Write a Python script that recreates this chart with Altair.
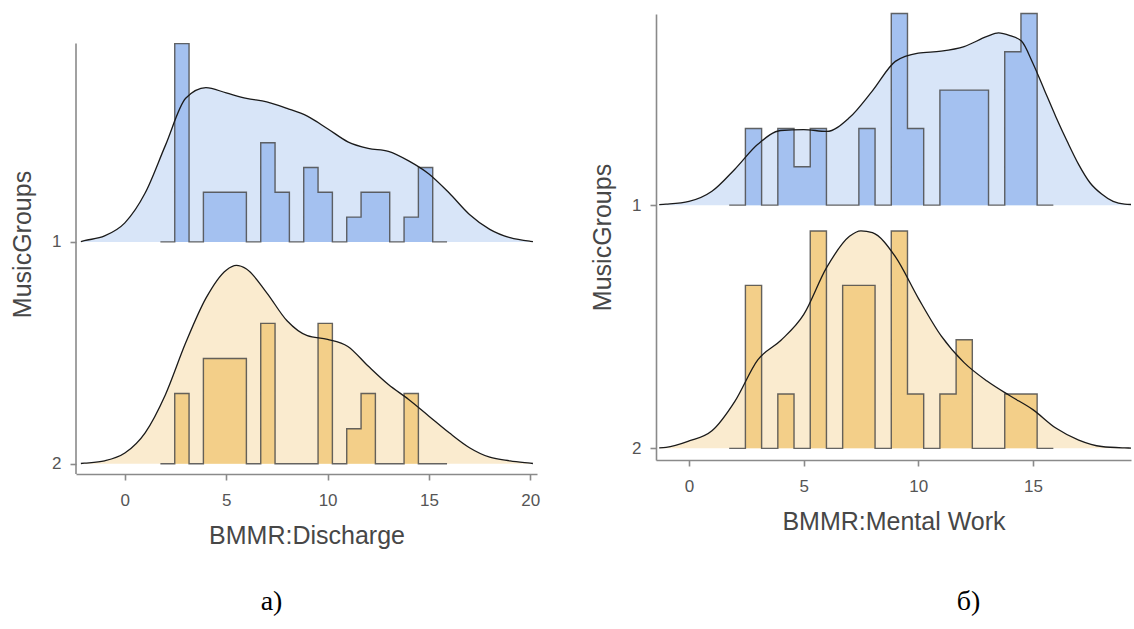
import altair as alt
import pandas as pd

# Histogram bins shared by both panels (score units)
BIN_START = 2.46
BIN_WIDTH = 0.707

GROUPS = ["1", "2"]

# ---- Panel а: BMMR:Discharge ----
a_hist_g1 = [8, 0, 2, 2, 2, 0, 4, 2, 0, 3, 2, 0, 1, 2, 2, 0, 1, 3]
a_hist_g2 = [2, 0, 3, 3, 3, 0, 4, 0, 0, 0, 4, 0, 1, 2, 0, 0, 2, 0]

a_kde_x_g1 = [-2.17, -2, -1, 0, 1, 2, 3, 4, 5, 6, 7, 8, 9, 10, 11, 12, 13,
              14, 15, 16, 17, 18, 19, 20, 20.13]
a_kde_d_g1 = [0.0005, 0.002, 0.010, 0.032, 0.082, 0.162, 0.241, 0.259, 0.250,
              0.241, 0.235, 0.224, 0.211, 0.190, 0.168, 0.157, 0.152, 0.136,
              0.114, 0.082, 0.046, 0.021, 0.007, 0.001, 0.0005]

a_kde_x_g2 = [-2.17, -2, -1, 0, 1, 2, 3, 4, 5, 5.5, 6, 7, 8, 9, 10, 11, 12,
              13, 14, 15, 16, 17, 18, 19, 20, 20.13]
a_kde_d_g2 = [0.0005, 0.001, 0.005, 0.018, 0.052, 0.116, 0.203, 0.278, 0.325,
              0.333, 0.327, 0.287, 0.240, 0.215, 0.209, 0.197, 0.164, 0.133,
              0.108, 0.080, 0.052, 0.027, 0.011, 0.005, 0.001, 0.0005]

# ---- Panel б: BMMR:Mental Work ----
b_hist_g1 = [2, 0, 2, 1, 2, 0, 0, 2, 0, 5, 2, 0, 3, 3, 3, 0, 4, 5]
b_hist_g2 = [3, 0, 1, 0, 4, 0, 3, 3, 0, 4, 1, 0, 1, 2, 0, 0, 1, 1]

b_kde_x_g1 = [-1.3, -1, 0, 1, 2, 3, 4, 5, 6, 7, 8, 9, 10, 11, 12, 13, 13.5,
              14, 14.5, 15, 15.5, 16, 16.5, 17, 17.5, 18, 18.5, 19, 19.28]
b_kde_d_g1 = [0.0005, 0.001, 0.004, 0.015, 0.039, 0.066, 0.081, 0.082, 0.080,
              0.095, 0.124, 0.156, 0.165, 0.167, 0.172, 0.183, 0.187, 0.184,
              0.178, 0.154, 0.125, 0.096, 0.069, 0.044, 0.024, 0.012, 0.004,
              0.001, 0.0007]

b_kde_x_g2 = [-1.3, -1, 0, 1, 2, 3, 4, 5, 6, 7, 7.5, 8, 9, 10, 11, 12, 13, 14,
              15, 16, 17, 18, 19, 19.28]
b_kde_d_g2 = [0.0005, 0.001, 0.008, 0.019, 0.051, 0.096, 0.117, 0.145, 0.196,
              0.230, 0.236, 0.234, 0.208, 0.163, 0.122, 0.093, 0.073, 0.057,
              0.042, 0.022, 0.009, 0.002, 0.0005, 0.0003]

# Styling
KDE_FILL = ["#d8e5f8", "#faebcf"]
BAR_FILL = ["#a4c1f0", "#f3cf89"]
AXIS_GREY = "#8a8a8a"
OUTLINE = "#4a4a4a"
FONT = "Liberation Sans"


def kde_frame(xs, dens, group):
    return pd.DataFrame({"x": xs, "density": dens, "group": group,
                         "base": float(group)})


def hist_frame(counts, group):
    # padded with an empty bin on each side, plus the closing edge
    n = sum(counts)
    padded = [0] + counts + [0, 0]
    edges = [BIN_START + (i - 1) * BIN_WIDTH for i in range(len(padded))]
    dens = [c / (n * BIN_WIDTH) for c in padded]
    return pd.DataFrame({"x": edges, "density": dens, "group": group,
                         "base": float(group)})


def panel(kde, hist, k, x_dom, y_dom, width, height, x_title, x_ticks,
          caption, cap_offset, cap_dx, axis_top=None):
    xs = alt.Scale(domain=x_dom, nice=False, zero=False)
    ys = alt.Scale(domain=y_dom, reverse=True, nice=False, zero=False)
    x_enc = alt.X("x:Q", scale=xs,
                  axis=alt.Axis(values=x_ticks, title=x_title, format="d"))
    y_enc = alt.Y("top:Q", scale=ys,
                  axis=alt.Axis(values=[1, 2], format="d", title="MusicGroups",
                                domain=axis_top is None))
    y2_enc = alt.Y2("base:Q")
    calc = f"datum.base - datum.density * {k}"

    kde_base = alt.Chart(kde).transform_calculate(top=calc)
    hist_base = alt.Chart(hist).transform_calculate(top=calc)

    kde_fill = kde_base.mark_area(interpolate="monotone", orient="vertical").encode(
        x=x_enc, y=y_enc, y2=y2_enc,
        color=alt.Color("group:N", scale=alt.Scale(domain=GROUPS, range=KDE_FILL),
                        legend=None))
    bars = hist_base.mark_area(interpolate="step-after", orient="vertical").encode(
        x=x_enc, y=y_enc, y2=y2_enc,
        color=alt.Color("group:N", scale=alt.Scale(domain=GROUPS, range=BAR_FILL),
                        legend=None))
    outline = hist_base.mark_line(interpolate="step-after", color=OUTLINE,
                                  strokeWidth=1.4, opacity=0.85).encode(
        x=x_enc, y=y_enc, detail="group:N")
    curve = kde_base.mark_line(interpolate="monotone", color="#1a1a1a",
                               strokeWidth=1.3).encode(
        x=x_enc, y=y_enc, detail="group:N")
    layers = [kde_fill, bars, outline, curve]
    if axis_top is not None:
        # y axis line that only spans the drawn range
        rule_df = pd.DataFrame({"top": [axis_top], "base": [y_dom[1]]})
        rule = alt.Chart(rule_df).mark_rule(color=AXIS_GREY, strokeWidth=1.6).encode(
            x=alt.value(0), y=y_enc, y2=y2_enc)
        layers.append(rule)
    return alt.layer(*layers).resolve_scale(color="independent").properties(
        width=width, height=height,
        title=alt.TitleParams(caption, orient="bottom", anchor="middle",
                              frame="group", font="Liberation Serif",
                              fontSize=28, fontWeight="normal", color="#000000",
                              offset=cap_offset, dx=cap_dx))


K_A = 2.685
K_B = 3.79

a_kde = pd.concat([kde_frame(a_kde_x_g1, a_kde_d_g1, "1"),
                   kde_frame(a_kde_x_g2, a_kde_d_g2, "2")])
a_hist = pd.concat([hist_frame(a_hist_g1, "1"), hist_frame(a_hist_g2, "2")])
b_kde = pd.concat([kde_frame(b_kde_x_g1, b_kde_d_g1, "1"),
                   kde_frame(b_kde_x_g2, b_kde_d_g2, "2")])
b_hist = pd.concat([hist_frame(b_hist_g1, "1"), hist_frame(b_hist_g2, "2")])

a_axis_top = 1 - max(a_hist["density"]) * K_A

panel_a = panel(a_kde, a_hist, K_A, [-2.41, 20.33], [-0.027, 2.046], 461, 460,
                "BMMR:Discharge", [0, 5, 10, 15, 20], "а)", 40, -35,
                axis_top=a_axis_top)
panel_b = panel(b_kde, b_hist, K_B, [-1.44, 19.28], [0.214, 2.048], 475, 446,
                "BMMR:Mental Work", [0, 5, 10, 15], "б)", 54, 75)

chart = alt.hconcat(panel_a, panel_b, spacing=50).properties(
    padding={"left": 10, "top": 10, "right": 0, "bottom": 0},
    background="white",
).configure_view(stroke=None).configure_axis(
    grid=False, domainColor=AXIS_GREY, domainWidth=1.6, tickColor=AXIS_GREY,
    tickWidth=1.6, tickSize=6, labelFont=FONT, labelFontSize=17,
    labelColor="#555555", titleFont=FONT, titleFontSize=25,
    titleFontWeight="normal", titleColor="#474747",
).configure_axisX(labelPadding=12, titlePadding=15).configure_axisY(
    labelPadding=9, titlePadding=16)

chart.save("out.html", embed_options={"renderer": "svg", "actions": False})
